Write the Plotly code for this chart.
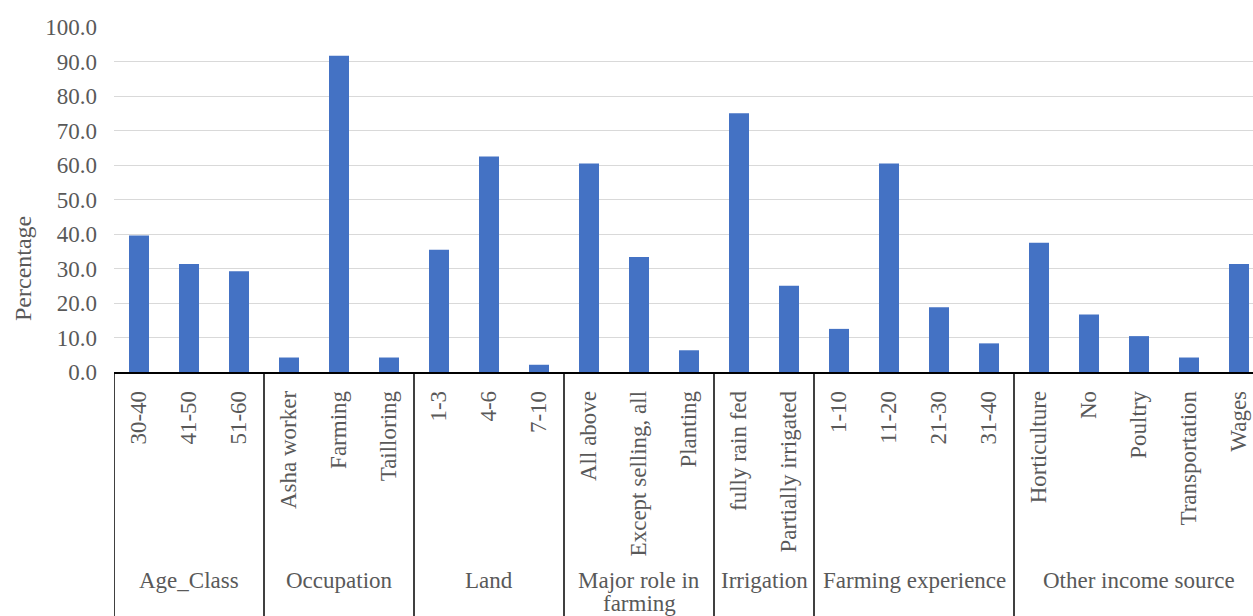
import plotly.graph_objects as go

# Survey groups and their response categories (percent of respondents)
groups = ["Age_Class", "Occupation", "Land", "Major role in<br>farming",
          "Irrigation", "Farming experience", "Other income source"]
group_sizes = [3, 3, 3, 3, 2, 4, 5]

categories = ["30-40", "41-50", "51-60",
              "Asha worker", "Farming", "Tailloring",
              "1-3", "4-6", "7-10",
              "All above", "Except selling, all", "Planting",
              "fully rain fed", "Partially irrigated",
              "1-10", "11-20", "21-30", "31-40",
              "Horticulture", "No", "Poultry", "Transportation", "Wages"]

percentages = [39.6, 31.3, 29.2,
               4.2, 91.7, 4.2,
               35.4, 62.5, 2.1,
               60.4, 33.3, 6.3,
               75.0, 25.0,
               12.5, 60.4, 18.8, 8.3,
               37.5, 16.7, 10.4, 4.2, 31.3]

W, H = 1253, 616
M_L, M_R, M_T, M_B = 114, 0, 27, 244
plot_w = W - M_L - M_R
plot_h = H - M_T - M_B

FONT = "Liberation Serif"
TXT = "#595959"
FS = 23

xs = list(range(len(categories)))

fig = go.Figure(go.Bar(
    x=xs, y=percentages, width=0.4,
    marker=dict(color="#4472C4", line=dict(width=0)),
))


def py_paper(py):
    # vertical pixel (from figure top) -> paper coordinate
    return (H - M_B - py) / plot_h


def px_paper(px):
    # horizontal pixel (from figure left) -> paper coordinate
    return (px - M_L) / plot_w


# group dividers and group labels below the category labels
shapes = []
annotations = []
bottom = py_paper(H + 5)
shapes.append(dict(type="line", xref="x", yref="paper", x0=-0.5, x1=-0.5,
                   y0=0, y1=bottom, line=dict(color="#000000", width=1.5)))
start = 0
for name, n in zip(groups, group_sizes):
    end = start + n
    if end < len(categories):
        shapes.append(dict(type="line", xref="x", yref="paper",
                           x0=end - 0.5, x1=end - 0.5, y0=0, y1=bottom,
                           line=dict(color="#000000", width=1.5)))
    # each line of a group label is placed separately for tight line spacing
    for i, line in enumerate(name.split("<br>")):
        annotations.append(dict(
            x=(start + end - 1) / 2, xref="x", y=py_paper(580 + 23 * i),
            yref="paper", text=line, showarrow=False,
            xanchor="center", yanchor="middle",
            font=dict(family=FONT, size=FS, color=TXT), borderpad=0,
        ))
    start = end

# y-axis title
annotations.append(dict(
    x=px_paper(23), xref="paper", y=py_paper(269), yref="paper",
    text="Percentage", textangle=-90, showarrow=False,
    xanchor="center", yanchor="middle",
    font=dict(family=FONT, size=24, color=TXT),
))

fig.update_layout(
    width=W, height=H,
    margin=dict(l=M_L, r=M_R, t=M_T, b=M_B),
    paper_bgcolor="white", plot_bgcolor="white",
    showlegend=False,
    font=dict(family=FONT, size=FS, color=TXT),
    shapes=shapes,
    annotations=annotations,
)

fig.update_xaxes(
    range=[-0.5, plot_w / 50 - 0.5],
    tickmode="array", tickvals=xs, ticktext=categories,
    tickangle=-90, ticks="", ticklabelstandoff=8,
    showline=True, linecolor="#000000", linewidth=1.5,
    showgrid=False, zeroline=False,
    tickfont=dict(family=FONT, size=FS, color=TXT),
)

fig.update_yaxes(
    range=[0, 100], dtick=10, tickformat=".1f",
    showgrid=True, gridcolor="#D9D9D9", gridwidth=1,
    zeroline=False, showline=False, ticks="", ticklabelstandoff=16,
    tickfont=dict(family=FONT, size=FS, color=TXT),
)

fig.write_html("out.html")
